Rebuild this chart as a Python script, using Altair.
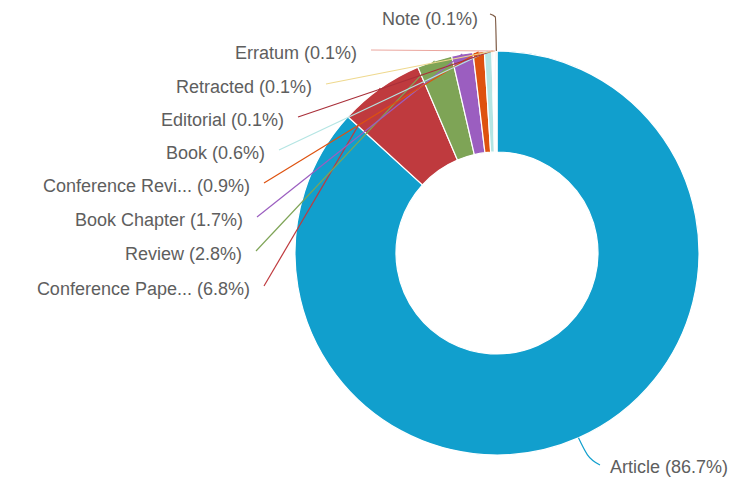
import math
import altair as alt
import pandas as pd

# ---- data ----
categories = ["Article", "Conference Paper", "Review", "Book Chapter",
              "Conference Review", "Book", "Editorial", "Retracted",
              "Erratum", "Note"]
shares = [86.7, 6.8, 2.8, 1.7, 0.9, 0.6, 0.1, 0.1, 0.1, 0.1]
label_texts = ["Article (86.7%)", "Conference Pape... (6.8%)", "Review (2.8%)",
               "Book Chapter (1.7%)", "Conference Revi... (0.9%)", "Book (0.6%)",
               "Editorial (0.1%)", "Retracted (0.1%)", "Erratum (0.1%)",
               "Note (0.1%)"]
colors = ["#119fcd", "#bf3a3e", "#7ea456", "#9b5ec0", "#de520f",
          "#b4e5e3", "#a9303a", "#efd98f", "#eba79f", "#7d5a44"]

# ---- layout (page pixels) ----
CX, CY = 497, 253
R_OUT, R_IN = 202, 101
# label anchor x (right end, or left start for Article) and centre y
label_x = [610, 250, 242, 243, 250, 265, 284, 312, 357, 478]
label_y = [468, 290, 255, 221, 187, 154, 121, 88, 54, 20]
label_align = ["left"] + ["right"] * 9
W, H = 724, 470
M = 8

total = sum(shares)
slices = pd.DataFrame({"cat": categories, "share": shares,
                       "idx": list(range(len(categories)))})

# slice mid points on the outer arc
cum = 0.0
line_rows = []
label_rows = []
for i, (c, s) in enumerate(zip(categories, shares)):
    a = (cum + s / 2) / total * 2 * math.pi
    cum += s
    sx = CX + R_OUT * math.sin(a)
    sy = CY - R_OUT * math.cos(a)
    if label_align[i] == "left":
        lp = (label_x[i] - 10, label_y[i] - 3)
        pts = [(sx, sy), (sx + 9, sy + 17), lp]
    elif c == "Note":
        lp = (label_x[i] + 12, label_y[i] - 6)
        pts = [lp, (sx - 1, label_y[i] - 3), (sx, sy)]
    else:
        lp = (label_x[i] + 14, label_y[i] - 4)
        pts = [lp, (sx, sy)]
    for k, (px, py) in enumerate(pts):
        line_rows.append({"cat": c, "ord": k, "px": px, "py": py})
    label_rows.append({"cat": c, "text": label_texts[i], "px": label_x[i],
                       "py": label_y[i], "align": label_align[i]})

lines = pd.DataFrame(line_rows)
labels = pd.DataFrame(label_rows)

xs = alt.Scale(domain=[M, M + W], range=[0, W], nice=False, zero=False)
ys = alt.Scale(domain=[M, M + H], range=[0, H], nice=False, zero=False)
cs = alt.Scale(domain=categories, range=colors)

donut = alt.Chart(slices).mark_arc(
    outerRadius=R_OUT, innerRadius=R_IN, stroke="white", strokeWidth=1.2
).encode(
    x=alt.value(CX - M), y=alt.value(CY - M),
    theta=alt.Theta("share:Q", stack=True),
    order=alt.Order("idx:Q"),
    color=alt.Color("cat:N", scale=cs, legend=None),
)

leaders = alt.Chart(lines).mark_line(strokeWidth=1.2, interpolate="monotone").encode(
    x=alt.X("px:Q", scale=xs, axis=None),
    y=alt.Y("py:Q", scale=ys, axis=None),
    detail="cat:N",
    order="ord:Q",
    color=alt.Color("cat:N", scale=cs, legend=None),
)

text_kw = dict(font="Liberation Sans", fontSize=18, color="#5e5e5e", baseline="middle")
right_labels = alt.Chart(labels).transform_filter(
    alt.datum.align == "right").mark_text(align="right", **text_kw).encode(
    x=alt.X("px:Q", scale=xs, axis=None),
    y=alt.Y("py:Q", scale=ys, axis=None),
    text="text:N",
)
left_labels = alt.Chart(labels).transform_filter(
    alt.datum.align == "left").mark_text(align="left", **text_kw).encode(
    x=alt.X("px:Q", scale=xs, axis=None),
    y=alt.Y("py:Q", scale=ys, axis=None),
    text="text:N",
)

chart = alt.layer(donut, leaders, right_labels, left_labels).properties(
    width=W, height=H, background="white", padding=0,
    autosize=alt.AutoSizeParams(type="none"),
).configure_view(stroke=None)

chart.save("out.html", embed_options={"renderer": "svg", "actions": False})
